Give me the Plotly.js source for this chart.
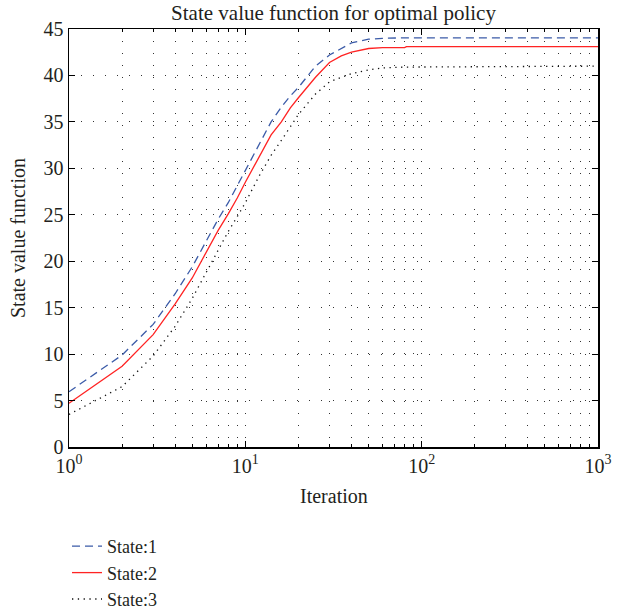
<!DOCTYPE html>
<html>
<head>
<meta charset="utf-8">
<script src="https://cdn.plot.ly/plotly-3.0.1.min.js"></script>
<style>html,body{margin:0;padding:0;background:#fff;}#chart{width:618px;height:611px;}</style>
</head>
<body>
<div id="chart"></div>
<script>
// Iteration numbers (log x axis)
const iterations = [1, 2, 3, 4, 5, 6, 7, 8, 9, 10, 12, 14, 16, 18, 20, 25, 30, 35, 40, 50, 60, 80, 82, 1000];
// State value function per state
const state1 = [5.95, 9.9, 13.2, 16.5, 19.4, 22.1, 24.5, 26.3, 28.1, 29.8, 32.6, 35.0, 36.6, 37.8, 38.7, 41.0, 42.2, 42.9, 43.5, 43.9, 44.0, 44.05, 44.05, 44.05];
const state2 = [4.7, 8.7, 12.1, 15.4, 18.2, 20.9, 23.3, 25.1, 26.8, 28.5, 31.3, 33.6, 35.0, 36.5, 37.6, 39.8, 41.4, 42.1, 42.5, 42.9, 43.0, 43.0, 43.1, 43.1];
const state3 = [3.5, 6.5, 9.8, 13.0, 16.0, 18.8, 21.2, 23.2, 24.8, 26.3, 29.2, 31.4, 33.0, 34.5, 35.8, 38.0, 39.3, 39.8, 40.2, 40.6, 40.8, 40.9, 40.9, 41.0];
const seriesNames = ["State:1", "State:2", "State:3"];
// X ticks: decades (labelled) and minor log grid positions
const xTickVals = [1, 10, 100, 1000];
const xTickText = ["10<sup>0</sup>", "10<sup>1</sup>", "10<sup>2</sup>", "10<sup>3</sup>"];
const xMinorVals = [2,3,4,5,6,7,8,9,20,30,40,50,60,70,80,90,200,300,400,500,600,700,800,900];
const yTickVals = [0,5,10,15,20,25,30,35,40,45];
const chartTitle = 'State value function for optimal policy';
const xTitle = 'Iteration';
const yTitle = 'State value function';

const fontFam = '"Liberation Serif", "DejaVu Serif", serif';
const txtCol = '#231f20';
const W = 618, H = 611;

const traces = [
  {x: iterations, y: state1, name: seriesNames[0], mode: 'lines', line: {color: '#3b5ba8', width: 1.3, dash: '8px,5px'}},
  {x: iterations, y: state2, name: seriesNames[1], mode: 'lines', line: {color: '#ff2323', width: 1.3}},
  {x: iterations, y: state3, name: seriesNames[2], mode: 'lines', line: {color: '#111', width: 1.3, dash: '1.3px,4.5px'}}
];

const gridStyle = {showgrid: true, gridcolor: '#333', gridwidth: 1, griddash: '1px,11px'};

const layout = {
  width: W, height: H,
  margin: {l: 69, r: 20, t: 29, b: 164, autoexpand: false},
  paper_bgcolor: '#fff', plot_bgcolor: '#fff',
  font: {family: fontFam, color: txtCol, size: 20},
  title: {text: chartTitle, x: 0.5, xanchor: 'center', xref: 'paper', y: 1 - 13/H, yanchor: 'middle', font: {size: 21, family: fontFam, color: txtCol}},
  xaxis: Object.assign({
    type: 'log', range: [0, 3], automargin: false,
    tickmode: 'array', tickvals: xTickVals, ticktext: xTickText,
    ticks: 'inside', ticklen: 6, tickcolor: '#000', tickwidth: 1,
    minor: {tickmode: 'array', tickvals: xMinorVals, ticks: 'inside', ticklen: 3, tickcolor: '#000',
            showgrid: true, gridcolor: '#333', gridwidth: 1, griddash: '1px,11px'},
    showline: true, linecolor: '#000', linewidth: 1.5, mirror: 'ticks',
    zeroline: false,
    tickfont: {size: 20, family: fontFam, color: txtCol}
  }, gridStyle),
  yaxis: Object.assign({
    range: [0, 45], tickmode: 'array', tickvals: yTickVals, automargin: false,
    ticks: 'inside', ticklen: 6, tickcolor: '#000', tickwidth: 1,
    showline: true, linecolor: '#000', linewidth: 1.5, mirror: 'ticks',
    zeroline: false,
    tickfont: {size: 20, family: fontFam, color: txtCol}
  }, gridStyle),
  annotations: [
    {text: xTitle, xref: 'paper', yref: 'paper', x: 0.5, y: -(496 - 447) / 418, xanchor: 'center', yanchor: 'middle',
     showarrow: false, font: {size: 20, family: fontFam, color: txtCol}},
    {text: yTitle, xref: 'paper', yref: 'paper', x: -(69 - 18) / 529, y: 0.5, xanchor: 'center', yanchor: 'middle',
     textangle: -90, showarrow: false, font: {size: 20, family: fontFam, color: txtCol}}
  ],
  showlegend: true,
  legend: {
    xref: 'container', yref: 'container',
    x: 67/W, y: 1 - 528/H, xanchor: 'left', yanchor: 'top',
    bgcolor: 'rgba(0,0,0,0)', borderwidth: 0,
    font: {size: 18, family: fontFam, color: txtCol},
    tracegroupgap: 0
  }
};

Plotly.newPlot('chart', traces, layout, {displayModeBar: false, staticPlot: true});
</script>
</body>
</html>
